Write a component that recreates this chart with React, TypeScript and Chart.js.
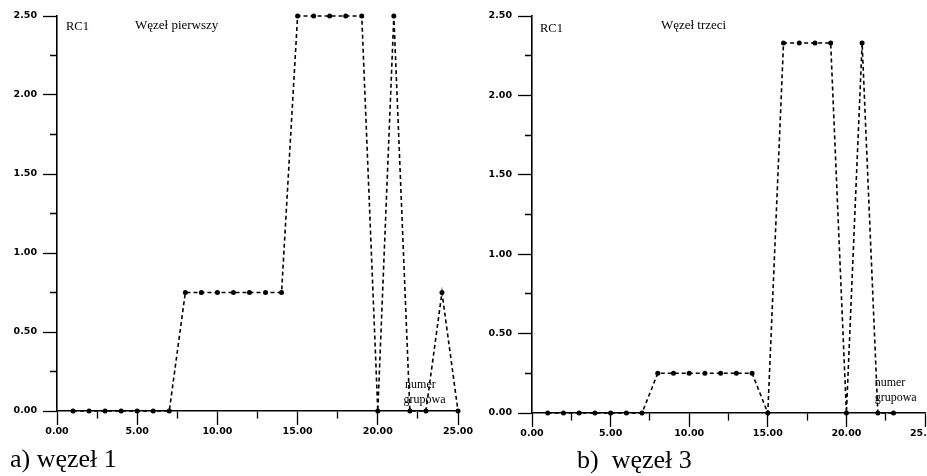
import React, { useEffect, useRef } from "react";
import { Chart, registerables } from "chart.js";

Chart.register(...registerables);

// ---- data ----
const node1Groups = [1, 2, 3, 4, 5, 6, 7, 8, 9, 10, 11, 12, 13, 14, 15, 16, 17, 18, 19, 20, 21, 22, 23, 24, 25];
const node1RC1 = [0, 0, 0, 0, 0, 0, 0, 0.75, 0.75, 0.75, 0.75, 0.75, 0.75, 0.75, 2.5, 2.5, 2.5, 2.5, 2.5, 0, 2.5, 0, 0, 0.75, 0];

const node3Groups = [1, 2, 3, 4, 5, 6, 7, 8, 9, 10, 11, 12, 13, 14, 15, 16, 17, 18, 19, 20, 21, 22, 23];
const node3RC1 = [0, 0, 0, 0, 0, 0, 0, 0.25, 0.25, 0.25, 0.25, 0.25, 0.25, 0.25, 0, 2.33, 2.33, 2.33, 2.33, 0, 2.33, 0, 0];

const xTickStep = 2.5;
const xLabelStep = 5;
const yTickStep = 0.25;
const yLabelStep = 0.5;
const xMin = 0;
const xMax = 25;
const yMin = 0;
const yMax = 2.5;

const yAxisLabel = "RC1";
const node1Title = "Węzeł pierwszy";
const node3Title = "Węzeł trzeci";
const groupLabel = ["numer", "grupowa"];
const caption1 = "a) węzeł 1";
const caption3 = "b)  węzeł 3";

type Note = { x: number; y: number; text: string; size: number };

const notesPlugin = {
  id: "notes",
  afterDatasetsDraw(chart: any, _args: any, opts: any) {
    const notes: Note[] = opts.items || [];
    const ctx = chart.ctx;
    const xs = chart.scales.x;
    const ys = chart.scales.y;
    ctx.save();
    ctx.fillStyle = "#000";
    ctx.textAlign = "left";
    ctx.textBaseline = "middle";
    for (const n of notes) {
      ctx.font = `${n.size}px "Liberation Serif", serif`;
      ctx.fillText(n.text, xs.getPixelForValue(n.x), ys.getPixelForValue(n.y));
    }
    ctx.restore();
  },
};

const isMultiple = (v: number, step: number) => Math.abs(v / step - Math.round(v / step)) < 1e-6;

type PanelProps = {
  xs: number[];
  ys: number[];
  notes: Note[];
  width: number;
  height: number;
  padding: { top: number; left: number; right: number; bottom: number };
  yAxisWidth: number;
  style: React.CSSProperties;
};

function Panel({ xs, ys, notes, width, height, padding, yAxisWidth, style }: PanelProps) {
  const ref = useRef<HTMLCanvasElement | null>(null);
  useEffect(() => {
    if (!ref.current) return;
    const tickFont = { family: '"DejaVu Sans", sans-serif', size: 9.5, weight: "bold" as const };
    const chart = new Chart(ref.current, {
      type: "line",
      data: {
        datasets: [
          {
            data: xs.map((x, i) => ({ x, y: ys[i] })),
            borderColor: "#000",
            borderWidth: 1.6,
            borderDash: [4, 3],
            pointRadius: 2.5,
            pointBackgroundColor: "#000",
            pointBorderColor: "#000",
            pointBorderWidth: 0,
            tension: 0,
            clip: false as any,
          },
        ],
      },
      plugins: [notesPlugin],
      options: {
        animation: false,
        responsive: false,
        devicePixelRatio: 1,
        layout: { padding },
        plugins: {
          legend: { display: false },
          tooltip: { enabled: false },
          notes: { items: notes },
        } as any,
        scales: {
          x: {
            type: "linear",
            position: "bottom",
            min: xMin,
            max: xMax,
            border: { color: "#000", width: 1.6 },
            grid: {
              drawOnChartArea: false,
              drawTicks: true,
              tickLength: 14,
              tickColor: "#000",
              tickWidth: 1.3,
              tickBorderDash: (c: any) => (c.tick && isMultiple(c.tick.value, xLabelStep) ? [] : [7, 100]),
            } as any,
            ticks: {
              stepSize: xTickStep,
              autoSkip: false,
              maxRotation: 0,
              padding: 1,
              color: "#000",
              font: tickFont,
              callback: (v: any) => (isMultiple(Number(v), xLabelStep) ? Number(v).toFixed(2) : ""),
            },
            afterFit: (s: any) => {
              s.height = 30;
              s.paddingLeft = 0;
              s.paddingRight = 0;
            },
          },
          y: {
            type: "linear",
            position: "left",
            min: yMin,
            max: yMax,
            border: { color: "#000", width: 1.6 },
            grid: {
              drawOnChartArea: false,
              drawTicks: true,
              tickLength: 14,
              tickColor: "#000",
              tickWidth: 1.3,
              tickBorderDash: (c: any) => (c.tick && isMultiple(c.tick.value, yLabelStep) ? [] : [0, 7, 7, 100]),
            } as any,
            ticks: {
              stepSize: yTickStep,
              autoSkip: false,
              padding: 6,
              color: "#000",
              font: tickFont,
              callback: (v: any) => (isMultiple(Number(v), yLabelStep) ? Number(v).toFixed(2) : ""),
            },
            afterFit: (s: any) => {
              s.width = yAxisWidth;
              s.paddingTop = 0;
              s.paddingBottom = 0;
            },
          },
        },
      },
    });
    return () => chart.destroy();
  }, []);
  return <canvas ref={ref} width={width} height={height} style={{ position: "absolute", width, height, ...style }} />;
}

const captionStyle: React.CSSProperties = {
  position: "absolute",
  fontFamily: '"Liberation Serif", "Times New Roman", serif',
  fontSize: 26,
  lineHeight: "26px",
  color: "#000",
  whiteSpace: "pre",
};

export default function App() {
  const notes1: Note[] = [
    { x: 0.56, y: 2.43, text: yAxisLabel, size: 12.5 },
    { x: 4.86, y: 2.44, text: node1Title, size: 13 },
    { x: 21.7, y: 0.165, text: groupLabel[0], size: 12 },
    { x: 21.6, y: 0.07, text: groupLabel[1], size: 12 },
  ];
  const notes3: Note[] = [
    { x: 0.51, y: 2.42, text: yAxisLabel, size: 12.5 },
    { x: 8.2, y: 2.44, text: node3Title, size: 13 },
    { x: 21.8, y: 0.19, text: groupLabel[0], size: 12 },
    { x: 21.8, y: 0.095, text: groupLabel[1], size: 12 },
  ];
  return (
    <div
      style={{
        position: "fixed",
        left: 0,
        top: 0,
        width: 927,
        height: 476,
        overflow: "hidden",
        background: "#fff",
      }}
    >
      <Panel
        xs={node1Groups}
        ys={node1RC1}
        notes={notes1}
        width={485}
        height={476}
        padding={{ top: 16, left: 0, right: 27, bottom: 35 }}
        yAxisWidth={57}
        style={{ left: 0, top: 0 }}
      />
      <Panel
        xs={node3Groups}
        ys={node3RC1}
        notes={notes3}
        width={470}
        height={476}
        padding={{ top: 16, left: 0, right: 20, bottom: 33 }}
        yAxisWidth={57}
        style={{ left: 475, top: 0 }}
      />
      <div style={{ ...captionStyle, left: 10, top: 446 }}>{caption1}</div>
      <div style={{ ...captionStyle, left: 577, top: 447 }}>{caption3}</div>
    </div>
  );
}
